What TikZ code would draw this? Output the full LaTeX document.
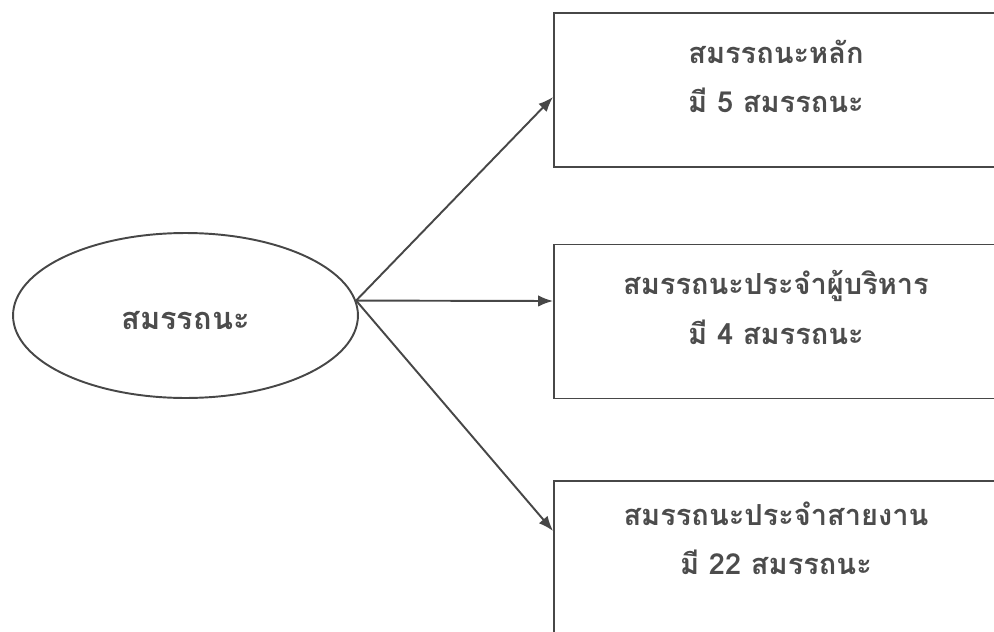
\documentclass[tikz,border=0pt]{standalone}
\usepackage{fontspec}
\newfontfamily\thaifont[Script=Thai]{Loma}
\usetikzlibrary{shapes.geometric,positioning,arrows.meta}

\begin{document}
\begin{tikzpicture}[x=0.02cm, y=-0.02cm,
  every node/.style={font=\thaifont\bfseries\fontsize{16.5}{28}\selectfont, text=black!70},
  box/.style={draw=black!72, line width=1.1pt, rectangle, minimum width=8.88cm, minimum height=3.08cm},
  txt/.style={align=center, inner sep=0pt},
  arr/.style={draw=black!72, line width=1.1pt, -{Latex[length=3mm,width=2.3mm]}}]
  \useasboundingbox (0,0) rectangle (994,632);
  \clip (0,0) rectangle (994,632);
  \node[draw=black!72, line width=1.1pt, ellipse, inner sep=0pt, minimum width=6.9cm, minimum height=3.3cm] (comp) at (185.5,315.5) {};
  \node[txt, font=\thaifont\bfseries\fontsize{17.5}{28}\selectfont] (comptxt) at ([yshift=-0.1cm]comp.center) {สมรรถนะ};
  \node[box] (core) at (776,90) {};
  \node[box] (mgr) at (776,321.5) {};
  \node[box] (func) at (776,558) {};
  \node[txt] (coretxt) at ([yshift=-1.28cm]core.north) {สมรรถนะหลัก\\มี 5 สมรรถนะ};
  \node[txt] (mgrtxt) at ([yshift=-1.28cm]mgr.north) {สมรรถนะประจำผู้บริหาร\\มี 4 สมรรถนะ};
  \node[txt] (functxt) at ([yshift=-1.16cm]func.north) {สมรรถนะประจำสายงาน\\มี 22 สมรรถนะ};
  \draw[arr] (comp.5) -- ([yshift=-0.14cm]core.west);
  \draw[arr] (comp.5) -- ([yshift=0.41cm]mgr.west);
  \draw[arr] (comp.5) -- ([yshift=0.54cm]func.west);
\end{tikzpicture}
\end{document}
